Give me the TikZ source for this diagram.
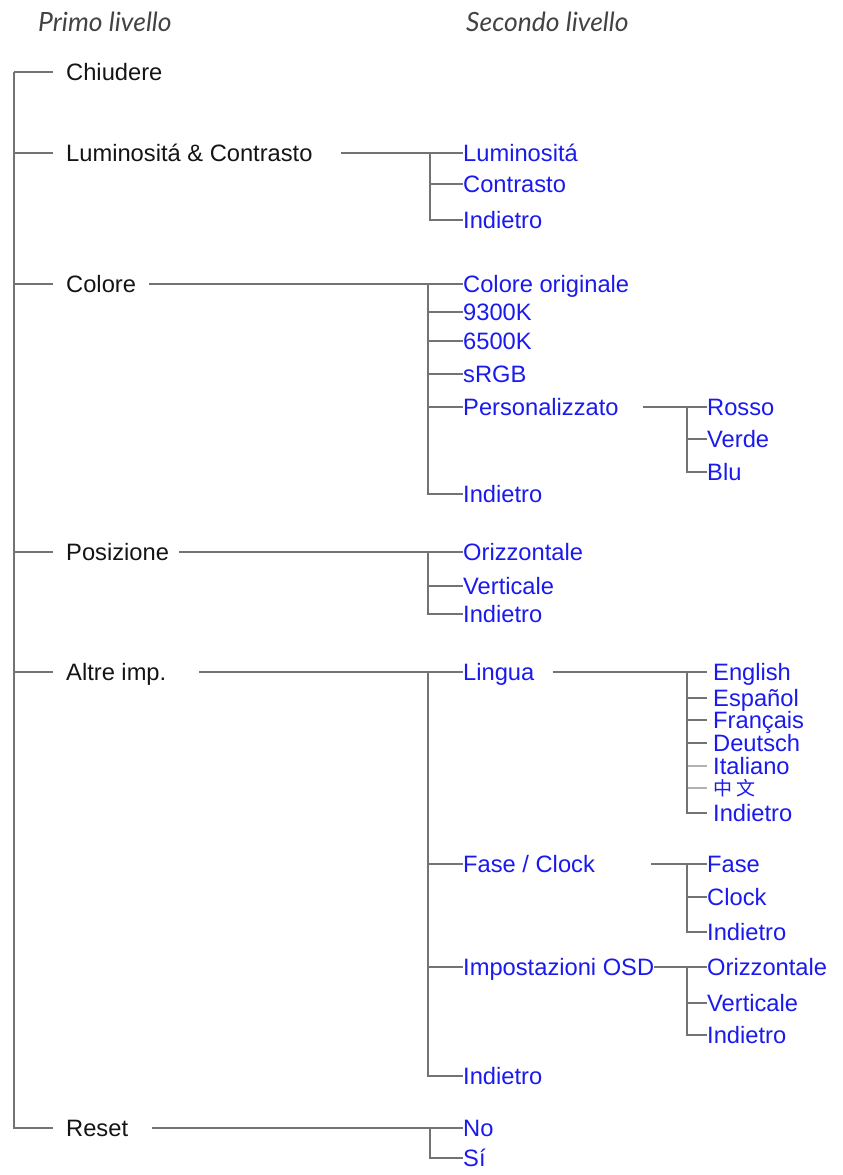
\documentclass[tikz,border=0pt]{standalone}
\usepackage{fontspec}
\setmainfont{Liberation Sans}
\newfontfamily\hdrfont{Lato}
\newfontfamily\cjk{Noto Sans CJK SC}
\definecolor{itemblue}{RGB}{26,26,236}
\definecolor{linegray}{RGB}{115,115,115}
\definecolor{txtblack}{RGB}{20,20,20}
\begin{document}
\begin{tikzpicture}[x=1pt,y=-1pt,
  conn/.style={draw=linegray,line width=1.4pt},
  lvone/.style={anchor=west,inner sep=0pt,text height=16.8pt,text depth=0pt,font=\fontsize{23.7}{28}\selectfont,text=txtblack},
  lvtwo/.style={lvone,text=itemblue},
  hdr/.style={anchor=base west,inner sep=0pt,font=\hdrfont\itshape\fontsize{26.5}{30}\selectfont,text=txtblack!80}]
\useasboundingbox (0,0) rectangle (843,1175);
% headers
\node[hdr] (h1) at (38,31) {Primo livello};
\node[hdr] (h2) at (466,31) {Secondo livello};
% root
\coordinate (root) at (14,72);
% level 1
\node[lvone] (chiudere) at (66,72) {Chiudere};
\node[lvone] (lumcon) at (66,153) {Luminosit\'a \& Contrasto};
\node[lvone] (colore) at (66,284) {Colore};
\node[lvone] (posiz) at (66,552) {Posizione};
\node[lvone] (altre) at (66,672) {Altre imp.};
\node[lvone] (reset) at (66,1128) {Reset};
\foreach \n in {chiudere,lumcon,colore,posiz,altre,reset}
  \draw[conn,shorten >=13pt] (root) |- (\n.west);
% branch points
\coordinate (blum) at (430,153);
\coordinate (bcol) at (428,284);
\coordinate (bpos) at (428,552);
\coordinate (balt) at (428,672);
\coordinate (bres) at (430,1128);
\coordinate (bpers) at (687,407);
\coordinate (bling) at (687,672);
\coordinate (bfase) at (687,864);
\coordinate (bosd) at (687,967);
\draw[conn,shorten <=28pt] (lumcon.east) -- (blum);
\draw[conn,shorten <=13pt] (colore.east) -- (bcol);
\draw[conn,shorten <=10pt] (posiz.east) -- (bpos);
\draw[conn,shorten <=33pt] (altre.east) -- (balt);
\draw[conn,shorten <=24pt] (reset.east) -- (bres);
% Luminosita children
\node[lvtwo] (lum1) at (463,153) {Luminosit\'a};
\node[lvtwo] (lum2) at (463,184) {Contrasto};
\node[lvtwo] (lum3) at (463,220) {Indietro};
\foreach \n in {lum1,lum2,lum3} \draw[conn] (blum) |- (\n.west);
% Colore children
\node[lvtwo] (col1) at (463,284) {Colore originale};
\node[lvtwo] (col2) at (463,312) {9300K};
\node[lvtwo] (col3) at (463,341) {6500K};
\node[lvtwo] (col4) at (463,374) {sRGB};
\node[lvtwo] (col5) at (463,407) {Personalizzato};
\node[lvtwo] (col6) at (463,494) {Indietro};
\foreach \n in {col1,col2,col3,col4,col5,col6} \draw[conn] (bcol) |- (\n.west);
\draw[conn,shorten <=24pt] (col5.east) -- (bpers);
\node[lvtwo] (pers1) at (707,407) {Rosso};
\node[lvtwo] (pers2) at (707,439) {Verde};
\node[lvtwo] (pers3) at (707,472) {Blu};
\foreach \n in {pers1,pers2,pers3} \draw[conn] (bpers) |- (\n.west);
% Posizione children
\node[lvtwo] (pos1) at (463,552) {Orizzontale};
\node[lvtwo] (pos2) at (463,586) {Verticale};
\node[lvtwo] (pos3) at (463,614) {Indietro};
\foreach \n in {pos1,pos2,pos3} \draw[conn] (bpos) |- (\n.west);
% Altre children
\node[lvtwo] (alt1) at (463,672) {Lingua};
\node[lvtwo] (alt2) at (463,864) {Fase / Clock};
\node[lvtwo] (alt3) at (463,967) {Impostazioni OSD};
\node[lvtwo] (alt4) at (463,1076) {Indietro};
\foreach \n in {alt1,alt2,alt3,alt4} \draw[conn] (balt) |- (\n.west);
\draw[conn,shorten <=18pt] (alt1.east) -- (bling);
\draw[conn,shorten <=56pt] (alt2.east) -- (bfase);
\draw[conn] (alt3.east) -- (bosd);
% Lingua children
\node[lvtwo] (lg1) at (713,672) {English};
\node[lvtwo] (lg2) at (713,698) {Español};
\node[lvtwo] (lg3) at (713,720) {Français};
\node[lvtwo] (lg4) at (713,743) {Deutsch};
\node[lvtwo] (lg5) at (713,766) {Italiano};
\node[lvtwo,font=\cjk\fontsize{19}{22}\selectfont,text height=14pt] (lg6) at (713,788) {中\hspace{4pt}文};
\node[lvtwo] (lg7) at (713,813) {Indietro};
\foreach \n in {lg5,lg6} \draw[conn,shorten >=6pt,draw=linegray!55] (bling) |- (\n.west);
\foreach \n in {lg1,lg2,lg3,lg4,lg7} \draw[conn,shorten >=6pt] (bling) |- (\n.west);
% Fase children
\node[lvtwo] (fa1) at (707,864) {Fase};
\node[lvtwo] (fa2) at (707,897) {Clock};
\node[lvtwo] (fa3) at (707,932) {Indietro};
\foreach \n in {fa1,fa2,fa3} \draw[conn] (bfase) |- (\n.west);
% OSD children
\node[lvtwo] (os1) at (707,967) {Orizzontale};
\node[lvtwo] (os2) at (707,1003) {Verticale};
\node[lvtwo] (os3) at (707,1035) {Indietro};
\foreach \n in {os1,os2,os3} \draw[conn] (bosd) |- (\n.west);
% Reset children
\node[lvtwo] (rs1) at (463,1128) {No};
\node[lvtwo] (rs2) at (463,1158) {Sí};
\foreach \n in {rs1,rs2} \draw[conn] (bres) |- (\n.west);
\end{tikzpicture}
\end{document}
